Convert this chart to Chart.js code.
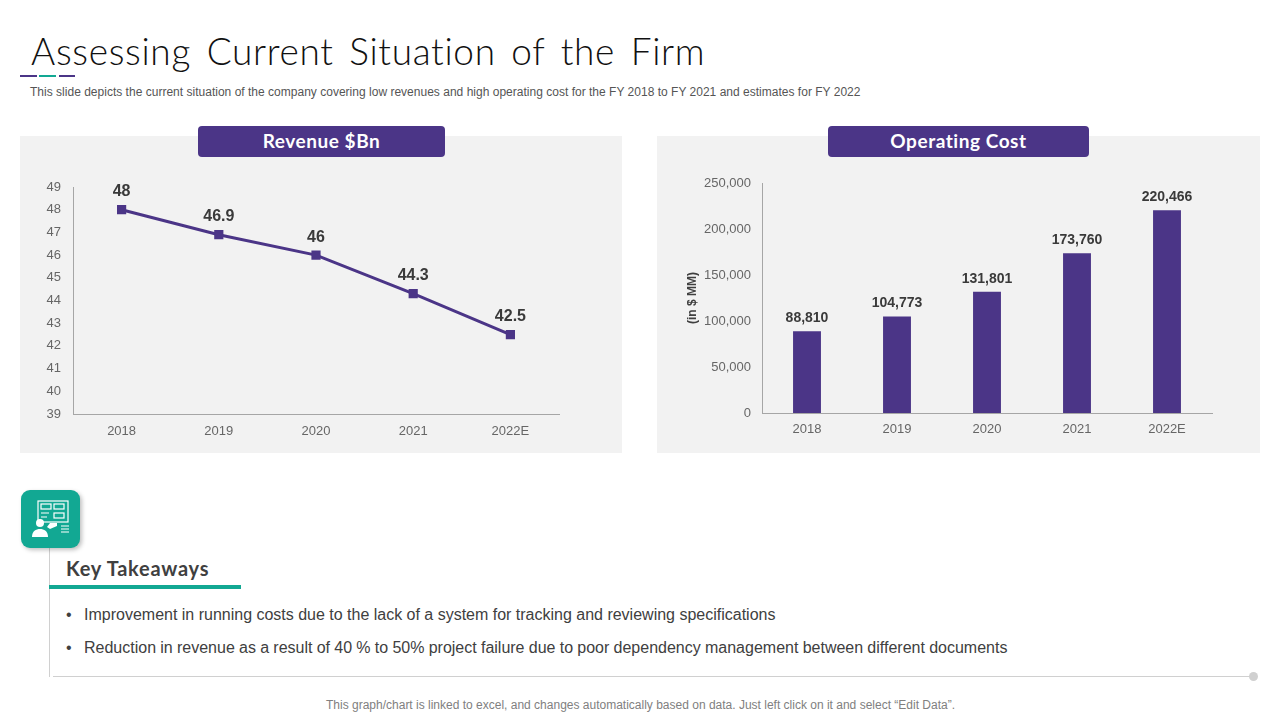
<!DOCTYPE html>
<html><head><meta charset="utf-8">
<script src="https://cdn.jsdelivr.net/npm/chart.js@4"></script>
<style>
html,body{margin:0;padding:0;background:#fff;width:1280px;height:720px;overflow:hidden;font-family:"Liberation Sans",Arial,sans-serif}
.a{position:absolute;white-space:nowrap}
.panel{position:absolute;background:#f2f2f2;top:136px;height:317px}
.pill{position:absolute;top:126px;height:31px;background:#4b3587;color:#fff;border-radius:4px;text-align:center;font:700 19px/30px "Lato",sans-serif;letter-spacing:.55px}
canvas{display:block}
</style></head><body>
<div class="a" style="left:31px;top:28px;font:300 37px/46px Lato,sans-serif;color:#111;word-spacing:5px;letter-spacing:.67px">Assessing Current Situation of the Firm</div>
<div class="a" style="left:20px;top:75px;width:17px;height:2px;background:#4b3587"></div>
<div class="a" style="left:39px;top:75px;width:17px;height:2px;background:#12a893"></div>
<div class="a" style="left:59px;top:75px;width:16px;height:2px;background:#4b3587"></div>
<div class="a" style="left:30px;top:85px;font-size:12px;line-height:15px;color:#555;letter-spacing:.013px">This slide depicts the current situation of the company covering low revenues and high operating cost for the FY 2018 to FY 2021 and estimates for FY 2022</div>

<div class="panel" style="left:20px;width:602px"><div style="position:absolute;inset:0"><canvas id="rev"></canvas></div></div>
<div class="panel" style="left:657px;width:603px"><div style="position:absolute;inset:0"><canvas id="cost"></canvas></div></div>
<div class="pill" style="left:198px;width:247px">Revenue $Bn</div>
<div class="pill" style="left:828px;width:261px">Operating Cost</div>

<div class="a" style="left:49px;top:548px;width:1px;height:129px;background:#d0d0d0"></div>
<div class="a" style="left:21px;top:490px;width:59px;height:58px;border-radius:9px;background:#12a893;box-shadow:2px 2px 4px rgba(0,0,0,.25)">
<svg width="59" height="58" viewBox="0 0 59 58" fill="none" stroke="#fff" stroke-width="1.2">
<rect x="17" y="11" width="30" height="21"/>
<rect x="20" y="14" width="10" height="5"/><rect x="33" y="14" width="10" height="5"/><rect x="33" y="23" width="10" height="5"/>
<path d="M20 23h8M20 27h6M48 36h-8M48 39h-8M48 42h-8"/>
<circle cx="19" cy="33" r="4" fill="#fff" stroke="none"/>
<path d="M11 47c0-6 4-8 8-8s8 2 8 8z" fill="#fff" stroke="none"/>
<path d="M26 37l3 2 7-3v-3h-7" fill="#fff" stroke="none"/>
</svg></div>
<div class="a" style="left:66px;top:555px;font:700 20px/27px Lato,sans-serif;color:#404040;letter-spacing:.75px">Key Takeaways</div>
<div class="a" style="left:49px;top:585px;width:192px;height:4px;background:#12a893"></div>
<div class="a" style="left:66px;top:605px;font-size:16px;line-height:20px;color:#404040">•</div>
<div class="a" style="left:84px;top:605px;font-size:16px;line-height:20px;color:#404040;word-spacing:-.03px">Improvement in running costs due to the lack of a system for tracking and reviewing specifications</div>
<div class="a" style="left:66px;top:638px;font-size:16px;line-height:20px;color:#404040">•</div>
<div class="a" style="left:84px;top:638px;font-size:16px;line-height:20px;color:#404040;word-spacing:-.2px">Reduction in revenue as a result of 40 % to 50% project failure due to poor dependency management between different documents</div>
<div class="a" style="left:53px;top:676px;width:1200px;height:1px;background:#d0d0d0"></div>
<div class="a" style="left:1249px;top:672px;width:9px;height:9px;border-radius:50%;background:#d0d0d0"></div>
<div class="a" style="left:326px;top:698px;font-size:12px;line-height:15px;color:#808080">This graph/chart is linked to excel, and changes automatically based on data. Just left click on it and select “Edit Data”.</div>

<script>
const years = ["2018","2019","2020","2021","2022E"];
const revenue = [48,46.9,46,44.3,42.5];
const revenueLabels = ["48","46.9","46","44.3","42.5"];
const revenueTicks = [39,40,41,42,43,44,45,46,47,48,49];
const cost = [88810,104773,131801,173760,220466];
const costLabels = ["88,810","104,773","131,801","173,760","220,466"];
const purple = "#4b3587";
Chart.defaults.animation = false;
Chart.defaults.responsive = false;
Chart.defaults.font.family = '"Liberation Sans",Arial,sans-serif';

function valuePlugin(labels, font, gap){
  return {id:"vals",afterDatasetsDraw(c){
    const ctx=c.ctx, m=c.getDatasetMeta(0);
    ctx.save();ctx.font=font;ctx.fillStyle="#3a3a3a";ctx.textAlign="center";ctx.textBaseline="bottom";
    m.data.forEach((p,i)=>ctx.fillText(labels[i],p.x,p.y-gap));
    ctx.restore();
  }};
}
function makeCanvas(id,w,h){const el=document.getElementById(id);el.width=w;el.height=h;el.style.width=w+"px";el.style.height=h+"px";return el;}
const xAxis = (h,pad,offset)=>({
  offset:offset,
  grid:{display:false,drawTicks:false,offset:offset},
  border:{color:"#a6a6a6",width:1},
  ticks:{color:"#666666",font:{size:13},padding:pad,maxRotation:0},
  afterFit(s){s.height=h;}
});

new Chart(makeCanvas("rev",602,317),{
  type:"line",
  data:{labels:years,datasets:[{data:revenue,borderColor:purple,backgroundColor:purple,borderWidth:3,
    pointStyle:"rect",pointRadius:6.5,pointBackgroundColor:purple,pointBorderWidth:0,tension:0}]},
  options:{
    layout:{padding:{top:51,right:63,left:0,bottom:0}},
    plugins:{legend:{display:false},tooltip:{enabled:false}},
    scales:{
      x:xAxis(39,10,true),
      y:{min:39,max:49,afterBuildTicks(s){s.ticks=revenueTicks.map(v=>({value:v}));},
        grid:{display:false,drawTicks:false},border:{color:"#a6a6a6",width:1},
        ticks:{color:"#666666",font:{size:13},padding:12},
        afterFit(s){s.width=53;}}
    }
  },
  plugins:[valuePlugin(revenueLabels,'700 16px "Liberation Sans"',10)]
});

new Chart(makeCanvas("cost",603,317),{
  type:"bar",
  data:{labels:years,datasets:[{data:cost,backgroundColor:purple,barPercentage:.31,categoryPercentage:1}]},
  options:{
    layout:{padding:{top:47,right:48,left:28,bottom:0}},
    plugins:{legend:{display:false},tooltip:{enabled:false}},
    scales:{
      x:xAxis(40,9,true),
      y:{min:0,max:250000,ticks:{stepSize:50000,color:"#666666",font:{size:13},padding:11,callback:v=>v.toLocaleString("en-US")},
        grid:{display:false,drawTicks:false},border:{color:"#a6a6a6",width:1},
        title:{display:true,text:"(in $ MM)",color:"#404040",font:{size:12,weight:"700"},padding:{top:0,bottom:2}},
        afterFit(s){s.width=77;}}
    }
  },
  plugins:[valuePlugin(costLabels,'700 14px "Liberation Sans"',6)]
});
</script>
</body></html>
